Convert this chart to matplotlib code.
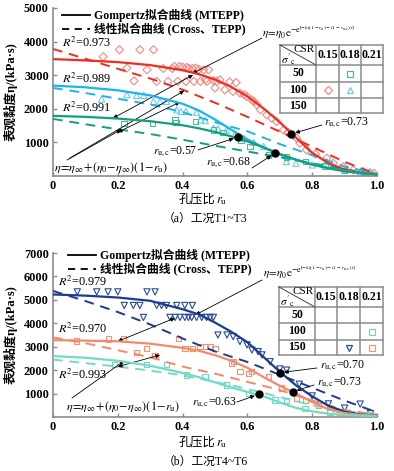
import matplotlib
matplotlib.use("Agg")
import matplotlib.pyplot as plt
from matplotlib.lines import Line2D

plt.rcParams['font.family'] = ['Liberation Serif', 'Noto Sans CJK SC']
plt.rcParams['mathtext.fontset'] = 'stix'
plt.rcParams['axes.unicode_minus'] = False

W, H = 394, 471

# ------------------------------------------------------------------ data
# fitted curves
R_FIT = [0, 0.1, 0.2, 0.3, 0.4, 0.45, 0.5, 0.55, 0.6, 0.65, 0.7, 0.75, 0.8, 0.85, 0.9, 0.95, 1.0]
R_LIN = [0, 0.1, 0.2, 0.3, 0.4, 0.5, 0.6, 0.7, 0.8, 0.9, 1.0]

# (a) T1~T3
red_fit = [3480, 3440, 3390, 3300, 3150, 3030, 2870, 2650, 2370, 2010, 1600, 1140, 690, 380, 190, 90, 50]
cyan_fit = [2690, 2640, 2550, 2400, 2150, 1950, 1680, 1380, 1090, 850, 650, 490, 350, 240, 150, 90, 60]
green_fit = [1790, 1760, 1710, 1630, 1510, 1420, 1310, 1180, 1030, 850, 650, 480, 340, 230, 140, 90, 50]
red_lin = [3780, 3490, 3190, 2900, 2570, 2180, 1760, 1320, 870, 420, 50]
cyan_lin = [2620, 2470, 2300, 2130, 1900, 1600, 1330, 950, 620, 280, 60]
green_lin = [1700, 1540, 1390, 1250, 1080, 900, 730, 560, 380, 200, 50]

red_r = [0.155, 0.205, 0.268, 0.31, 0.228, 0.25, 0.29, 0.32, 0.34, 0.355, 0.368, 0.375, 0.385,
         0.39, 0.40, 0.41, 0.413, 0.42, 0.43, 0.435, 0.44, 0.45, 0.455, 0.465, 0.47, 0.475, 0.48,
         0.495, 0.5, 0.505, 0.515, 0.53, 0.545, 0.555, 0.565, 0.577, 0.59, 0.598, 0.613, 0.62,
         0.629, 0.64, 0.66, 0.675, 0.69, 0.711, 0.725, 0.752, 0.762, 0.782, 0.81, 0.845, 0.865,
         0.896, 0.927, 0.958, 0.978, 0.99]
red_eta = [3550, 3760, 3760, 3760, 3210, 2830, 3160, 2815, 3200, 2815, 3200, 3260, 2815,
           3260, 3240, 2815, 3230, 3200, 3200, 2815, 3210, 3170, 2815, 3160, 2865, 2815, 3160,
           2840, 2620, 2815, 2860, 2565, 2800, 2520, 2780, 2470, 2420, 2370, 2270, 2220,
           2120, 1970, 1820, 1720, 1620, 1370, 1300, 1125, 975, 776, 650, 528, 380,
           278, 179, 128, 100, 80]
cyan_r = [0.15, 0.228, 0.258, 0.28, 0.31, 0.33, 0.35, 0.382, 0.395, 0.41, 0.443, 0.455, 0.47,
          0.495, 0.51, 0.536, 0.56, 0.59, 0.62, 0.65, 0.68, 0.72, 0.75, 0.8, 0.845, 0.865, 0.9,
          0.948, 0.978]
cyan_eta = [2290, 2420, 2400, 2400, 2220, 2220, 2220, 1970, 1920, 1920, 1900, 1670, 1650,
            1420, 1400, 1370, 1200, 1120, 1000, 880, 700, 430, 380, 330, 430, 280, 180,
            130, 120]
green_r = [0.219, 0.308, 0.377, 0.38, 0.44, 0.495, 0.525, 0.58, 0.608, 0.665, 0.72, 0.78, 0.84, 0.9, 0.96]
green_eta = [1570, 1570, 1670, 1600, 1620, 1370, 1300, 1060, 875, 630, 560, 430, 300, 170, 100]

# (b) T4~T6
navy_fit = [5230, 5180, 5100, 4960, 4600, 4380, 4030, 3640, 3190, 2560, 1930, 1350, 880, 480, 230, 110, 60]
orange_fit = [3280, 3260, 3230, 3130, 2950, 2830, 2640, 2400, 2100, 1700, 1330, 1000, 640, 330, 170, 90, 50]
teal_fit = [2600, 2530, 2400, 2190, 1880, 1700, 1480, 1260, 1070, 880, 620, 390, 240, 140, 90, 60, 40]
navy_lin = [5380, 4950, 4480, 3950, 3350, 2800, 2350, 1800, 1250, 700, 200]
orange_lin = [3400, 3150, 2850, 2550, 2150, 1850, 1500, 1150, 700, 300, 100]
teal_lin = [2450, 2300, 2150, 1980, 1780, 1500, 1200, 850, 500, 250, 80]

navy_r = [0.075, 0.135, 0.17, 0.2, 0.29, 0.315,
          0.22, 0.248, 0.268, 0.32, 0.335, 0.35, 0.382, 0.407, 0.43,
          0.279, 0.361, 0.377, 0.392, 0.407, 0.418, 0.428, 0.443, 0.459, 0.474, 0.485, 0.495,
          0.509, 0.537, 0.556, 0.577, 0.599, 0.614, 0.633, 0.645, 0.67, 0.7, 0.721, 0.76,
          0.8, 0.85, 0.9, 0.948, 0.98]
navy_eta = [5340, 5340, 5340, 5340, 5340, 5340,
            4760, 4760, 4760, 4760, 4760, 4760, 4760, 4760, 4760,
            4250, 4250, 4250, 4250, 4250, 4250, 4250, 4250, 4250, 4250, 4250, 4250,
            3500, 3500, 3430, 3220, 3080, 2860, 2790, 2650, 2360, 2050, 2000, 1400,
            900, 560, 380, 550, 150]
orange_r = [0.073, 0.171, 0.217, 0.258, 0.289, 0.315, 0.387, 0.407, 0.43, 0.454, 0.47, 0.485,
            0.5, 0.551, 0.557, 0.577, 0.603, 0.613, 0.665, 0.706, 0.752, 0.78, 0.82, 0.855,
            0.886, 0.92, 0.95, 0.978]
orange_eta = [3250, 3330, 3360, 2740, 2930, 2620, 3360, 2930, 2930, 3000, 3000, 3000,
              2930, 2300, 2360, 1940, 1860, 1940, 1720, 1230, 800, 700, 500, 300,
              180, 120, 100, 80]
teal_r = [0.19, 0.289, 0.351, 0.412, 0.469, 0.536, 0.603, 0.685, 0.72, 0.778, 0.855, 0.92, 0.97]
teal_eta = [2250, 2250, 2250, 1790, 1720, 1370, 1010, 726, 700, 370, 200, 120, 80]

# critical pore pressure ratio points
crit_a = [(0.57, 1155, 'cyan'), (0.685, 677, 'green'), (0.735, 1250, 'red')]
crit_b = [(0.70, 1890, 'navy'), (0.74, 1080, 'orange'), (0.635, 970, 'teal')]

R2_a = ['0.973', '0.989', '0.991']
R2_b = ['0.979', '0.970', '0.993']
CSR = ['0.15', '0.18', '0.21']
SIGMA = ['50', '100', '150']

COL = {'red': '#ee2d1f', 'cyan': '#1eb4e3', 'green': '#10a07c',
       'navy': '#1c3c8e', 'orange': '#f4896a', 'teal': '#72dcc2'}
MCOL = {'red': '#f38a80', 'cyan': '#6fcdec', 'green': '#4dbb9a',
        'navy': '#2a4a98', 'orange': '#f6926f', 'teal': '#6fd8bf'}
GRAY = '#8c8c8c'

# ------------------------------------------------------------------ helpers
def fp(x, y):
    return (x / W, 1 - y / H)


def style_axes(ax, ymax, ylab_y, xlab_y):
    ax.set_xlim(0, 1.0)
    ax.set_ylim(0, ymax)
    for s in ['top', 'right']:
        ax.spines[s].set_visible(False)
    for s in ['left', 'bottom']:
        ax.spines[s].set_color(GRAY)
        ax.spines[s].set_linewidth(1.2)
    ax.set_xticks([0, 0.2, 0.4, 0.6, 0.8, 1.0])
    ax.set_xticklabels(['0', '0.2', '0.4', '0.6', '0.8', '1.0'])
    ax.set_yticks(list(range(1000, ymax + 1, 1000)))
    ax.tick_params(direction='in', length=3, width=1, color=GRAY, labelsize=8.8, pad=3)
    for lab in ax.get_xticklabels() + ax.get_yticklabels():
        lab.set_fontweight('bold')
    # axis titles (CJK and math parts as separate texts)
    fig = ax.figure
    fig.text(*fp(11, ylab_y), '表观黏度η/(kPa·s)', rotation=90, fontsize=9,
             fontweight='bold', ha='center', va='center')
    fig.text(*fp(215, xlab_y), '孔压比', fontsize=8.8, ha='right', va='center')
    fig.text(*fp(216, xlab_y + 1), '$r_\\mathrm{u}$', fontsize=9.2, ha='left', va='center')


def draw_curves(ax, fits, lins):
    for key, vals in fits:
        ax.plot(R_FIT, vals, color=COL[key], lw=1.6, zorder=4)
    for key, vals in lins:
        ax.plot(R_LIN, vals, color=COL[key], lw=1.4, ls=(0, (5, 3.5)), zorder=3)


def draw_legend(fig, x0, y0):
    fig.add_artist(Line2D([fp(x0, y0)[0], fp(x0 + 28, y0)[0]], [fp(x0, y0)[1]] * 2,
                          color='black', lw=1.3))
    fig.add_artist(Line2D([fp(x0, y0 + 14)[0], fp(x0 + 28, y0 + 14)[0]], [fp(x0, y0 + 14)[1]] * 2,
                          color='black', lw=1.3, ls=(0, (4, 3))))
    fig.text(*fp(x0 + 32, y0), 'Gompertz拟合曲线 (MTEPP)', fontsize=8.5, va='center',
             fontweight='bold')
    fig.text(*fp(x0 + 32, y0 + 14), '线性拟合曲线 (Cross、TEPP)', fontsize=8.5, va='center',
             fontweight='bold')


def draw_table(fig, xs, ys, marks):
    # xs: column borders, ys: row borders (pixels)
    for x in xs:
        fig.add_artist(Line2D([fp(x, 0)[0]] * 2, [fp(0, ys[0])[1], fp(0, ys[-1])[1]],
                              color=GRAY, lw=1.1))
    for y in ys:
        fig.add_artist(Line2D([fp(xs[0], 0)[0], fp(xs[-1], 0)[0]], [fp(0, y)[1]] * 2,
                              color=GRAY, lw=1.1))
    fig.add_artist(Line2D([fp(xs[0], 0)[0], fp(xs[1], 0)[0]], [fp(0, ys[0])[1], fp(0, ys[1])[1]],
                          color='#444444', lw=0.7))
    fig.text(*fp(xs[1] - 1, ys[0] + 5), 'CSR', fontsize=8, ha='right', va='center')
    fig.text(*fp(xs[0] + 1, ys[1] - 5), "$\\sigma'_\\mathrm{c}$", fontsize=8, ha='left',
             va='center')
    for i, c in enumerate(CSR):
        fig.text(*fp((xs[i + 1] + xs[i + 2]) / 2, (ys[0] + ys[1]) / 2), c, fontsize=8.5,
                 ha='center', va='center', fontweight='bold')
    for j, s in enumerate(SIGMA):
        fig.text(*fp((xs[0] + xs[1]) / 2, (ys[j + 1] + ys[j + 2]) / 2), s, fontsize=8.5,
                 ha='center', va='center', fontweight='bold')
    for (row, col, marker, key) in marks:
        cx = (xs[col + 1] + xs[col + 2]) / 2
        cy = (ys[row + 1] + ys[row + 2]) / 2
        fig.add_artist(Line2D([fp(cx, cy)[0]], [fp(cx, cy)[1]], marker=marker, ms=4.5,
                              mfc='none', mec=MCOL[key], mew=0.9, ls='none'))


def crit(ax, pts):
    for r, e, key in pts:
        ax.plot(r, e, 'o', color='black', ms=5, zorder=6)


def label_arrow(ax, text, xy, txt_px, tail_px, fs=8.5):
    fig = ax.figure
    fig.text(*fp(*txt_px), text, fontsize=fs, va='center', ha='left')
    ax.annotate('', xy=xy, xycoords='data', xytext=fp(*tail_px), textcoords='figure fraction',
                arrowprops=dict(arrowstyle='-|>', color='black', lw=0.6, mutation_scale=6,
                                shrinkA=0, shrinkB=3))


def line_arrow(ax, xy, tail_px, both=False):
    ax.annotate('', xy=xy, xycoords='data', xytext=fp(*tail_px), textcoords='figure fraction',
                arrowprops=dict(arrowstyle='<|-|>' if both else '-|>', color='black', lw=0.6,
                                mutation_scale=6, shrinkA=0, shrinkB=0))


# ------------------------------------------------------------------ figure
fig = plt.figure(figsize=(W / 100, H / 100), dpi=100)

GOMP = '$\\eta\\!=\\!\\eta_0\\mathrm{e}^{-\\mathrm{e}^{[-k((1-r_\\mathrm{u})-(1-r_{\\mathrm{u,c}}))]}}$'
LINF = '$\\eta\\!=\\!\\eta_\\infty\\!+\\!(\\eta_0\\!-\\!\\eta_\\infty)(1\\!-\\!r_\\mathrm{u})$'

# (a)
ax1 = fig.add_axes([53 / W, 1 - 176 / H, 324 / W, 168 / H])
ax1.scatter(red_r, red_eta, marker='D', s=17, facecolors='none', edgecolors=MCOL['red'],
            linewidths=0.8, zorder=2)
ax1.scatter(cyan_r, cyan_eta, marker='^', s=20, facecolors='none', edgecolors=MCOL['cyan'],
            linewidths=0.8, zorder=2)
ax1.scatter(green_r, green_eta, marker='s', s=15, facecolors='none', edgecolors=MCOL['green'],
            linewidths=0.8, zorder=2)
draw_curves(ax1, [('red', red_fit), ('cyan', cyan_fit), ('green', green_fit)],
            [('red', red_lin), ('cyan', cyan_lin), ('green', green_lin)])
crit(ax1, crit_a)
style_axes(ax1, 5000, 92, 200)
fig.text(*fp(205, 219), '（a）工况T1~T3', fontsize=8.5, ha='center', va='center')

draw_legend(fig, 62, 15)
for txt, y in zip(R2_a, [43, 79, 108]):
    fig.text(*fp(62, y), '$R^2$=' + txt, fontsize=8.8, va='center')
fig.text(*fp(262, 33), GOMP, fontsize=8.0, va='center')
fig.text(*fp(54, 168), LINF, fontsize=8.8, va='center')

line_arrow(ax1, (0.43, 3050), (262, 38))
line_arrow(ax1, (0.185, 1720), (193, 75), both=True)
line_arrow(ax1, (0.405, 2540), (70, 158))
line_arrow(ax1, (0.2, 1300), (180, 102), both=True)
line_arrow(ax1, (0.21, 1380), (67, 160))

label_arrow(ax1, '$r_{\\mathrm{u,c}}$=0.73', (0.735, 1250), (324, 123), (322, 125))
label_arrow(ax1, '$r_{\\mathrm{u,c}}$=0.57', (0.57, 1155), (153, 152), (198, 150))
label_arrow(ax1, '$r_{\\mathrm{u,c}}$=0.68', (0.685, 677), (206, 163), (252, 168))

draw_table(fig, [280, 316, 339, 361, 383], [45, 65, 82, 98, 113],
           [(0, 1, 's', 'green'), (1, 0, 'D', 'red'), (1, 1, '^', 'cyan')])

# (b)
ax2 = fig.add_axes([53 / W, 1 - 417 / H, 324 / W, 164 / H])
ax2.scatter(navy_r, navy_eta, marker='v', s=20, facecolors='none', edgecolors=MCOL['navy'],
            linewidths=0.8, zorder=2)
ax2.scatter(orange_r, orange_eta, marker='s', s=15, facecolors='none', edgecolors=MCOL['orange'],
            linewidths=0.8, zorder=2)
ax2.scatter(teal_r, teal_eta, marker='s', s=15, facecolors='none', edgecolors=MCOL['teal'],
            linewidths=0.8, zorder=2)
draw_curves(ax2, [('navy', navy_fit), ('orange', orange_fit), ('teal', teal_fit)],
            [('navy', navy_lin), ('orange', orange_lin), ('teal', teal_lin)])
crit(ax2, crit_b)
style_axes(ax2, 7000, 335, 443)
fig.text(*fp(205, 462), '（b）工况T4~T6', fontsize=8.5, ha='center', va='center')

draw_legend(fig, 68, 255)
for txt, y in zip(R2_b, [282, 329, 375]):
    fig.text(*fp(58, y), '$R^2$=' + txt, fontsize=8.8, va='center')
fig.text(*fp(263, 273), GOMP, fontsize=8.0, va='center')
fig.text(*fp(66, 407), LINF, fontsize=8.8, va='center')

line_arrow(ax2, (0.44, 4360), (262, 280))
line_arrow(ax2, (0.2, 3230), (175, 318), both=True)
line_arrow(ax2, (0.2, 2150), (160, 355), both=True)
line_arrow(ax2, (0.22, 2400), (72, 398))

label_arrow(ax2, '$r_{\\mathrm{u,c}}$=0.70', (0.70, 1890), (320, 366), (317, 368))
label_arrow(ax2, '$r_{\\mathrm{u,c}}$=0.73', (0.74, 1080), (317, 383), (314, 385))
label_arrow(ax2, '$r_{\\mathrm{u,c}}$=0.63', (0.635, 970), (192, 403), (237, 402))

draw_table(fig, [279, 315, 337, 360, 383], [287, 307, 323, 340, 355],
           [(1, 2, 's', 'teal'), (2, 1, 'v', 'navy'), (2, 2, 's', 'orange')])

fig.savefig('out.png', dpi=100)
